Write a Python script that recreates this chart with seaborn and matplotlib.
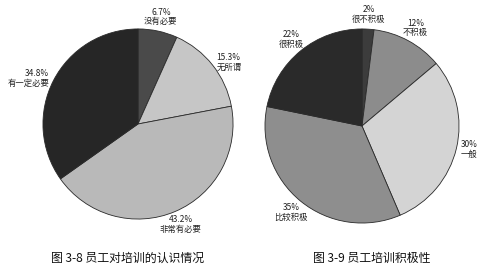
import matplotlib
matplotlib.use("Agg")
import numpy as np
import matplotlib.pyplot as plt
import seaborn as sns

# ---- data ----
left_labels = ["没有必要", "无所谓", "非常有必要", "有一定必要"]
left_values = [6.7, 15.3, 43.2, 34.8]
left_pct = ["6.7%", "15.3%", "43.2%", "34.8%"]
left_colors = ["#4a4a4a", "#c6c6c6", "#b9b9b9", "#262626"]
left_title = "图 3-8 员工对培训的认识情况"

right_labels = ["很不积极", "不积极", "一般", "比较积极", "很积极"]
right_values = [2, 12, 30, 35, 22]
right_pct = ["2%", "12%", "30%", "35%", "22%"]
right_colors = ["#3c3c3c", "#8c8c8c", "#d4d4d4", "#8e8e8e", "#2a2a2a"]
right_title = "图 3-9 员工培训积极性"

sns.set_theme(style="white")
plt.rcParams["font.family"] = ["Noto Sans CJK SC", "DejaVu Sans"]

W, H = 478, 276
fig = plt.figure(figsize=(W / 100, H / 100), dpi=100)
fig.patch.set_facecolor("white")


def draw(cx, cy, r, values, colors, pct, names):
    ax = fig.add_axes([(cx - r) / W, (H - cy - r) / H, 2 * r / W, 2 * r / H])
    labels = [f"{p}\n{n}" for p, n in zip(pct, names)]
    wedges, texts = ax.pie(values, colors=colors, startangle=90, counterclock=False,
                           labels=labels, labeldistance=1.15,
                           wedgeprops=dict(edgecolor="#2a2a2a", linewidth=0.6),
                           textprops=dict(fontsize=6, color="#222222",
                                          linespacing=1.1))
    for w, t in zip(wedges, texts):
        ang = np.deg2rad((w.theta1 + w.theta2) / 2)
        c, s = np.cos(ang), np.sin(ang)
        if abs(c) > 0.7:
            d = 1.05
            t.set_ha("left" if c > 0 else "right")
        else:
            d = 1.15
            t.set_ha("center")
        t.set_va("center")
        t.set_position((d * c, d * s))
    ax.set_xlim(-1.01, 1.01)
    ax.set_ylim(-1.01, 1.01)
    ax.set_aspect("equal")
    ax.axis("off")
    return ax


draw(138, 124, 96, left_values, left_colors, left_pct, left_labels)
draw(362, 126, 98, right_values, right_colors, right_pct, right_labels)

fig.text(128 / W, 1 - 258 / H, left_title, ha="center", va="center", fontsize=8.6, color="#111111")
fig.text(372 / W, 1 - 258 / H, right_title, ha="center", va="center", fontsize=8.6, color="#111111")

fig.savefig("out.png", dpi=100, facecolor="white")
